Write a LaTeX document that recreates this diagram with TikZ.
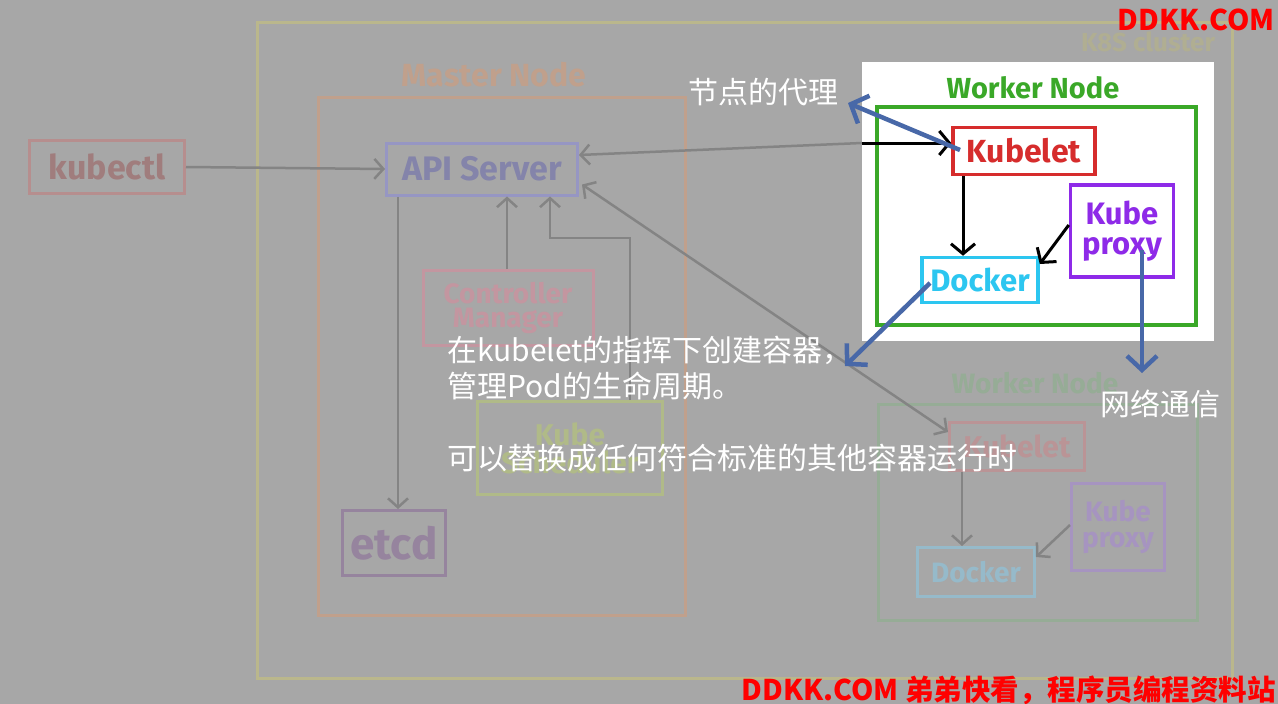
\documentclass[tikz,border=0pt]{standalone}
\usepackage{fontspec}
\setmainfont{Fira Sans}
\newfontfamily\cjk{Noto Sans CJK SC}
\newfontfamily\hand{Fira Sans}
\usetikzlibrary{arrows.meta}
\newcommand\myfs[1]{\fontsize{#1}{#1}\selectfont}
\definecolor{bg}{RGB}{167,167,167}
\definecolor{fline}{RGB}{132,132,132}
\definecolor{fyellow}{RGB}{186,183,140}
\definecolor{fk8s}{RGB}{176,174,146}
\definecolor{forange}{RGB}{192,160,140}
\definecolor{fkub}{RGB}{182,142,142}
\definecolor{fkubt}{RGB}{160,125,125}
\definecolor{fblue}{RGB}{150,150,195}
\definecolor{fbluet}{RGB}{132,132,170}
\definecolor{fpink}{RGB}{195,150,160}
\definecolor{fyg}{RGB}{176,186,136}
\definecolor{fetcd}{RGB}{150,132,158}
\definecolor{fgreen}{RGB}{150,172,150}
\definecolor{fred}{RGB}{186,148,150}
\definecolor{fpurp}{RGB}{166,148,192}
\definecolor{fcyan}{RGB}{150,186,202}
\definecolor{wgreen}{RGB}{58,168,40}
\definecolor{wred}{RGB}{214,44,44}
\definecolor{wpurp}{RGB}{142,42,232}
\definecolor{wcyan}{RGB}{44,198,240}
\definecolor{ablue}{RGB}{72,104,168}
\definecolor{wm}{RGB}{255,0,0}
\tikzset{
  fbox/.style={draw, line width=3pt, inner sep=0pt, align=center, font=\hand\bfseries\myfs{30}},
  wbox/.style={draw, line width=3.5pt, inner sep=0pt, align=center, font=\hand\bfseries\myfs{32}},
  fcon/.style={draw=fline, line width=2.5pt, -{Straight Barb[length=9pt,width=20pt]}},
  wcon/.style={draw=black, line width=3pt, -{Straight Barb[length=10pt,width=24pt]}},
  bcon/.style={draw=ablue, line width=4.5pt, -{Straight Barb[length=14pt,width=30pt]}},
  wtext/.style={text=white, font=\cjk\myfs{30}, anchor=west, inner sep=0pt},
  wmark/.style={text=wm, font=\cjk\bfseries\myfs{28.5}, anchor=east, inner sep=0pt},
}
\begin{document}
\begin{tikzpicture}[x=1pt,y=-1pt]
\fill[bg] (0,0) rectangle (1278,704);
\useasboundingbox (0,0) rectangle (1278,704);
% faded cluster
\draw[fyellow, line width=3pt] (257,22) rectangle (1232,678);
\node[text=fk8s, font=\hand\bfseries\myfs{26}] (k8s) at (1148,42) {K8S cluster};
\node[text=forange, font=\hand\bfseries\myfs{32}] (mlabel) at (494,75) {Master Node};
\draw[forange, line width=3pt] (318,97) rectangle (685,615);
\node[fbox, draw=fkub, text=fkubt, minimum width=155, minimum height=53, font=\hand\bfseries\myfs{34}] (kubectl) at (107,167) {kubectl};
\node[fbox, draw=fblue, text=fbluet, minimum width=191, minimum height=52, font=\hand\bfseries\myfs{34}] (api) at (482,169) {API Server};
\node[fbox, draw=fpink, text=fpink, minimum width=170, minimum height=75, font=\hand\bfseries\myfs{28}] (ctrl) at (508,308) {Controller\\[-4pt]Manager};
\node[fbox, draw=fyg, text=fyg, minimum width=185, minimum height=93, font=\hand\bfseries\myfs{30}] (sched) at (570,448) {Kube\\[-2pt]Scheduler};
\node[fbox, draw=fetcd, text=fetcd, minimum width=103, minimum height=65, font=\hand\bfseries\myfs{44}] (etcd) at (394,543) {etcd};
\node[text=fgreen, font=\hand\bfseries\myfs{28}] (w2label) at (1035,383) {Worker Node};
\draw[fgreen, line width=3pt] (878,404) rectangle (1197,620);
\node[fbox, draw=fred, text=fred, minimum width=135, minimum height=48] (kubelet2) at (1017,446) {Kubelet};
\node[fbox, draw=fpurp, text=fpurp, minimum width=93, minimum height=87, font=\hand\bfseries\myfs{28}] (proxy2) at (1118,527) {Kube\\[-2pt]proxy};
\node[fbox, draw=fcyan, text=fcyan, minimum width=117, minimum height=49, font=\hand\bfseries\myfs{28}] (docker2) at (976,572) {Docker};
% faded connectors
\draw[fcon] (kubectl.east) -- (api.west);
\draw[fcon] (ctrl.north -| 507,0) -- (api.south -| 507,0);
\draw[fcon] (sched.north -| 630,0) -- (630,238) -- (550,238) -- (api.south -| 550,0);
\draw[fcon] (api.south -| 398,0) -- (etcd.north -| 398,0);
\draw[fcon, {Straight Barb[length=9pt,width=20pt]}-{Straight Barb[length=9pt,width=20pt]}] (api.south east) ++(3,-12) coordinate (apise) -- (kubelet2.west |- 0,432);
\draw[fcon] (kubelet2.south -| 962,0) -- (docker2.north -| 962,0);
\draw[fcon] (proxy2.west |- 0,525) -- (docker2.east |- 0,557);
\coordinate (pe) at (862,143);
\draw[fcon] (pe) -- (api.east |- 0,155);
% highlight panel
\fill[white] (862,62) rectangle (1214,341);
\node[text=wgreen, font=\hand\bfseries\myfs{29}] (w1label) at (1033,88) {Worker Node};
\draw[wgreen, line width=4pt] (877,107) rectangle (1196,325);
\node[wbox, draw=wred, text=wred, minimum width=142, minimum height=47] (kubelet1) at (1024,151) {Kubelet};
\node[wbox, draw=wpurp, text=wpurp, minimum width=103, minimum height=92, font=\hand\bfseries\myfs{31}] (proxy1) at (1122,231) {Kube\\[-1pt]proxy};
\node[wbox, draw=wcyan, text=wcyan, minimum width=116, minimum height=45, font=\hand\bfseries\myfs{31}] (docker1) at (980,280) {Docker};
\draw[wcon] (pe) -- (kubelet1.west |- pe);
\draw[wcon] (kubelet1.south -| 963,0) -- (docker1.north -| 963,0);
\draw[wcon] (proxy1.west |- 0,225) -- (docker1.east |- 0,264);
% annotations
\node[wtext] (t1) at (688,92) {节点的代理};
\node[wtext] (t2) at (447,350) {在kubelet的指挥下创建容器，};
\node[wtext] (t3) at (447,386) {管理Pod的生命周期。};
\node[wtext] (t4) at (447,458) {可以替换成任何符合标准的其他容器运行时};
\node[wtext] (t5) at (1100,404) {网络通信};
\coordinate (b1s) at (960,150);
\coordinate (b1e) at (848,103);
\coordinate (b2s) at (930,283);
\coordinate (b2e) at (845,366);
\coordinate (b3s) at (1142,250);
\coordinate (b3e) at (1142,373);
\draw[bcon] (b1s) -- (b1e);
\draw[bcon] (b2s) -- (b2e);
\draw[bcon] (b3s) -- (b3e);
% watermark
\node[wmark] (wm1) at (1275,20) {DDKK.COM};
\node[wmark] (wm2) at (1276,690) {DDKK.COM 弟弟快看，程序员编程资料站};
\end{tikzpicture}
\end{document}
